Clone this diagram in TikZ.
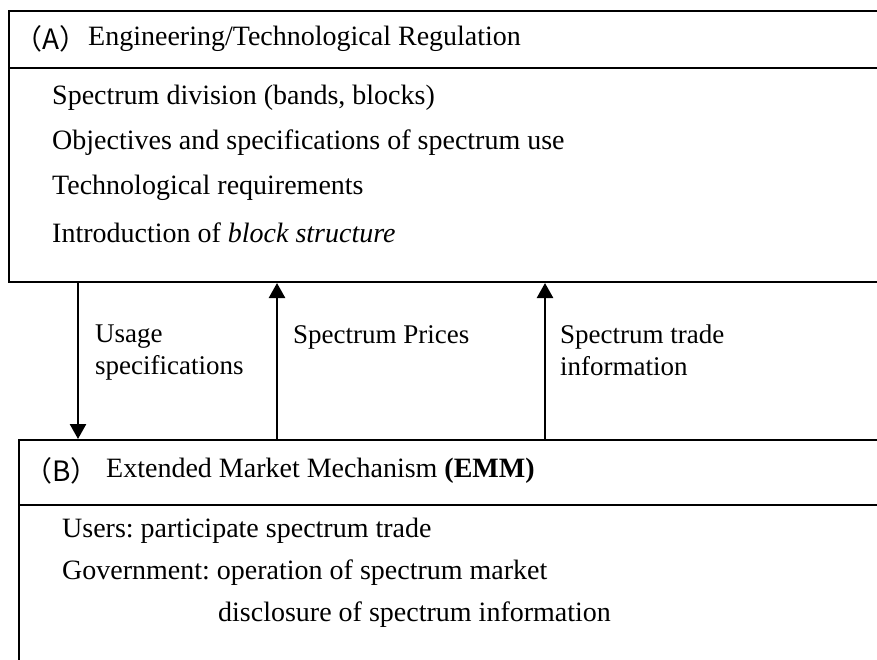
\documentclass[tikz,border=0pt]{standalone}
\usepackage{fontspec}
\setmainfont{Liberation Serif}
\newfontfamily\cjk{Noto Sans CJK JP}
\usetikzlibrary{arrows.meta}
\frenchspacing
\begin{document}
\begin{tikzpicture}[x=1pt,y=-1pt,
  box/.style={draw,line width=2pt,rectangle,inner sep=0pt,anchor=north west},
  txt/.style={anchor=west,inner sep=0pt,font=\fontsize{28}{32}\selectfont},
  lbl/.style={anchor=north west,inner sep=0pt,align=left,font=\fontsize{27}{32}\selectfont},
  arr/.style={line width=2.5pt,-{Triangle[length=15pt,width=16pt]}}]
\useasboundingbox (0,0) rectangle (877,659);
\clip (0,0) rectangle (877,659);
% Box A
\node[box,minimum width=890pt,minimum height=271pt] (boxA) at (8,10) {};
\coordinate (divA) at (8,68);
\draw[line width=2pt] (divA) -- ++(890,0);
\node[txt] (hA1) at (14,39) {\cjk （A）};
\node[txt] (hA2) at (88,39) {Engineering/Technological Regulation};
\node[txt] (a1) at (52,98) {Spectrum division (bands, blocks)};
\node[txt] (a2) at (52,143) {Objectives and specifications of spectrum use};
\node[txt] (a3) at (52,188) {Technological requirements};
\node[txt] (a4) at (52,233) {Introduction of \textit{block structure}};
% Box B
\node[box,minimum width=890pt,minimum height=240pt] (boxB) at (18,439) {};
\coordinate (divB) at (18,505);
\draw[line width=2pt] (divB) -- ++(890,0);
\node[txt] (hB1) at (24,471) {\cjk （B）};
\node[txt] (hB2) at (106,471) {Extended Market Mechanism \textbf{(EMM)}};
\node[txt] (b1) at (62,531) {Users: participate spectrum trade};
\node[txt] (b2) at (62,573) {Government: operation of spectrum market};
\node[txt] (b3) at (218,615) {disclosure of spectrum information};
% Arrows
\coordinate (u1) at (78,0);
\coordinate (u2) at (277,0);
\coordinate (u3) at (545,0);
\draw[arr] (boxA.south -| u1) -- (boxB.north -| u1);
\draw[arr] (boxB.north -| u2) -- (boxA.south -| u2);
\draw[arr] (boxB.north -| u3) -- (boxA.south -| u3);
\node[lbl] (l1) at (95,325) {Usage\\specifications};
\node[lbl] (l2) at (293,325) {Spectrum Prices};
\node[lbl] (l3) at (560,325) {Spectrum trade\\information};
\end{tikzpicture}
\end{document}
